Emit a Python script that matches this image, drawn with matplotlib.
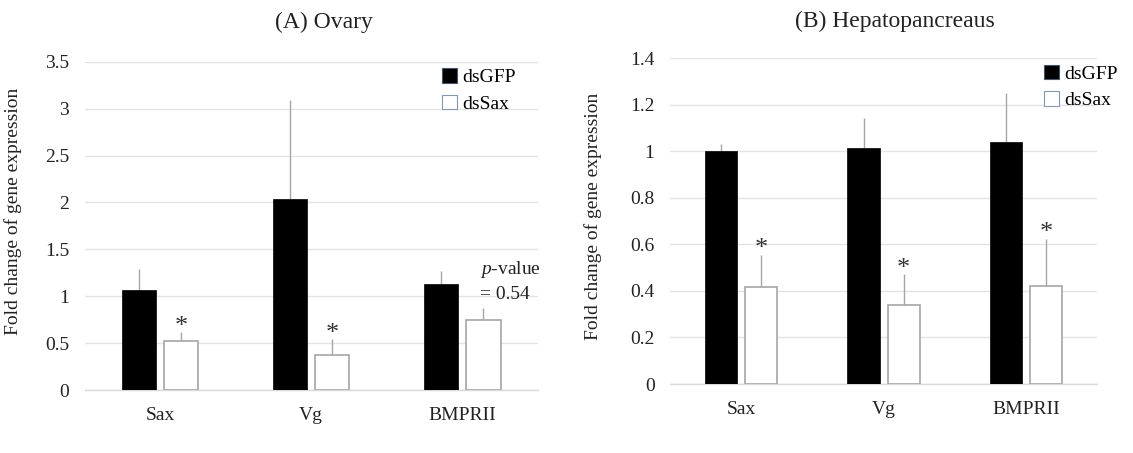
import matplotlib
matplotlib.use("Agg")
import matplotlib.pyplot as plt
from matplotlib.patches import Patch
import numpy as np

plt.rcParams["font.family"] = ["Liberation Serif", "DejaVu Serif"]
plt.rcParams["mathtext.fontset"] = "custom"
plt.rcParams["mathtext.rm"] = "Liberation Serif"
plt.rcParams["mathtext.it"] = "Liberation Serif:italic"

genes = ["Sax", "Vg", "BMPRII"]
series = ["dsGFP", "dsSax"]

# (A) Ovary
ovary_gfp = [1.066, 2.04, 1.127]
ovary_gfp_err = [0.22, 1.05, 0.145]
ovary_sax = [0.526, 0.37, 0.746]
ovary_sax_err = [0.09, 0.17, 0.128]
ovary_sig = [True, True, False]
ovary_ticks = [0, 0.5, 1, 1.5, 2, 2.5, 3, 3.5]
ovary_ticklabels = ["0", "0.5", "1", "1.5", "2", "2.5", "3", "3.5"]

# (B) Hepatopancreaus
hepa_gfp = [1.0, 1.015, 1.042]
hepa_gfp_err = [0.033, 0.127, 0.21]
hepa_sax = [0.417, 0.341, 0.42]
hepa_sax_err = [0.138, 0.13, 0.205]
hepa_sig = [True, True, True]
hepa_ticks = [0, 0.2, 0.4, 0.6, 0.8, 1.0, 1.2, 1.4]
hepa_ticklabels = ["0", "0.2", "0.4", "0.6", "0.8", "1", "1.2", "1.4"]

FS = 14
TXT = "#222222"
GRID = "#e4e4e4"
ERR = "#a6a6a6"
EDGE = "#a6a6a6"

fig = plt.figure(figsize=(11.33, 4.53), dpi=100)
axA = fig.add_axes([0.0746, 0.139, 0.4000, 0.7247])
axB = fig.add_axes([0.5912, 0.1523, 0.3774, 0.7190])


def draw_panel(ax, gfp, gfp_err, sax, sax_err, sig, ticks, ticklabels, ylabel_x, ylabel_y):
    x = np.arange(len(genes))
    w = 0.226
    off = 0.141
    ax.bar(x - off, gfp, width=w, color="black", edgecolor="black", linewidth=0.5, zorder=3)
    ax.bar(x + off, sax, width=w, color="white", edgecolor=EDGE, linewidth=1.2, zorder=3)
    ax.errorbar(x - off, gfp, yerr=[np.zeros(len(gfp)), gfp_err], fmt="none",
                ecolor=ERR, elinewidth=1.0, capsize=0, zorder=2)
    ax.errorbar(x + off, sax, yerr=[np.zeros(len(sax)), sax_err], fmt="none",
                ecolor=ERR, elinewidth=1.0, capsize=0, zorder=2)
    for xi, v, e, s in zip(x + off, sax, sax_err, sig):
        if s:
            ax.annotate("*", xy=(xi, v + e), xytext=(0, -4), textcoords="offset points",
                        ha="center", va="bottom", fontsize=19, color="#333333")
    ax.set_xlim(-0.5, len(genes) - 0.5)
    ax.set_ylim(0, ticks[-1])
    ax.set_yticks(ticks)
    ax.set_yticklabels(ticklabels)
    ax.set_xticks(x)
    ax.set_xticklabels(genes)
    ax.tick_params(axis="both", length=0, labelsize=FS, colors=TXT)
    ax.tick_params(axis="y", pad=11)
    ax.tick_params(axis="x", pad=12)
    ax.yaxis.grid(True, color=GRID, linewidth=1.0, zorder=0)
    ax.set_axisbelow(True)
    for sp in ["top", "right", "left"]:
        ax.spines[sp].set_visible(False)
    ax.spines["bottom"].set_color("#d9d9d9")
    ax.spines["bottom"].set_linewidth(1.0)
    ax.set_ylabel("Fold change of gene expression", fontsize=FS, color=TXT)
    ax.yaxis.set_label_coords(ylabel_x, ylabel_y)


draw_panel(axA, ovary_gfp, ovary_gfp_err, ovary_sax, ovary_sax_err, ovary_sig,
           ovary_ticks, ovary_ticklabels, -0.139, 0.545)
draw_panel(axB, hepa_gfp, hepa_gfp_err, hepa_sax, hepa_sax_err, hepa_sig,
           hepa_ticks, hepa_ticklabels, -0.159, 0.516)

# p-value note next to the BMPRII pair in the ovary panel
axA.text(2.12, 1.28, "$p$-value", fontsize=FS, ha="left", va="center", color=TXT)
axA.text(2.12, 1.02, "= 0.54", fontsize=FS, ha="left", va="center", color=TXT)

handles = [Patch(facecolor="black", edgecolor="#44546a", linewidth=0.8),
           Patch(facecolor="white", edgecolor="#8497b0", linewidth=0.8)]
for ax, anchor in [(axA, (0.789, 0.98)), (axB, (0.875, 0.98))]:
    ax.legend(handles, series, loc="upper left", bbox_to_anchor=anchor, frameon=False,
              fontsize=FS, handlelength=0.75, handleheight=0.75, handletextpad=0.3,
              labelspacing=0.45, borderpad=0, borderaxespad=0)

fig.text(324 / 1133, 1 - 22 / 453, "(A) Ovary", fontsize=17, ha="center", va="center", color=TXT)
fig.text(895 / 1133, 1 - 21 / 453, "(B) Hepatopancreaus", fontsize=17, ha="center", va="center",
         color=TXT)

fig.savefig("out.png", dpi=100, facecolor="white")
